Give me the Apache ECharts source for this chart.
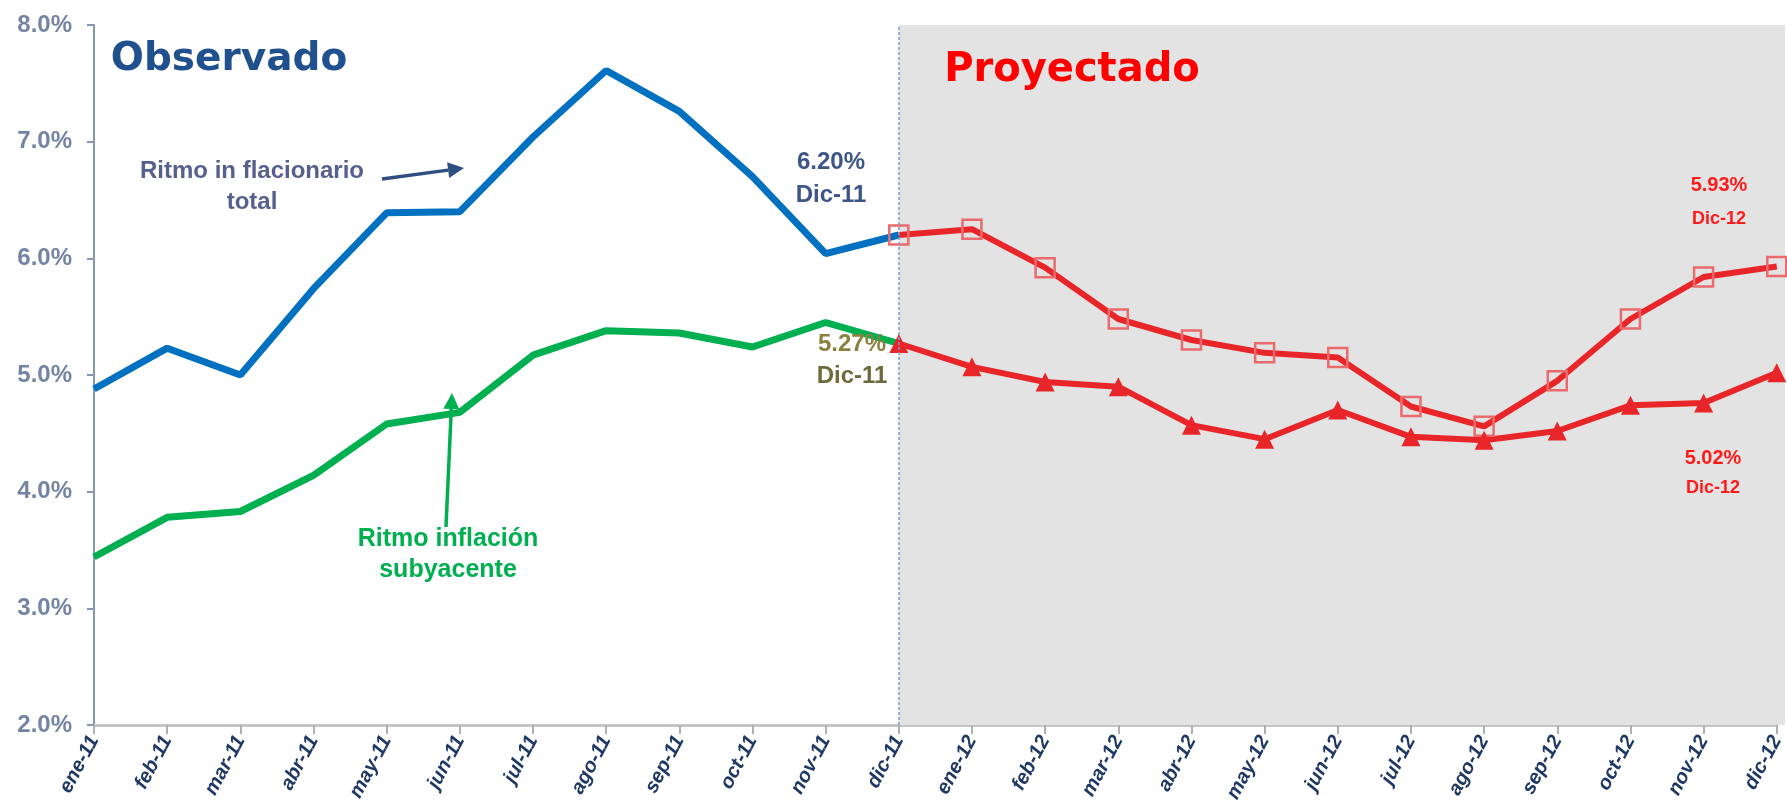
<!DOCTYPE html>
<html>
<head>
<meta charset="utf-8">
<script src="https://cdn.jsdelivr.net/npm/echarts@6/dist/echarts.min.js"></script>
<style>
  html, body { margin: 0; padding: 0; background: #fff; }
  #main { width: 1787px; height: 809px; }
</style>
</head>
<body>
<div id="main"></div>
<script>
const months = [
  "ene-11", "feb-11", "mar-11", "abr-11", "may-11", "jun-11",
  "jul-11", "ago-11", "sep-11", "oct-11", "nov-11", "dic-11",
  "ene-12", "feb-12", "mar-12", "abr-12", "may-12", "jun-12",
  "jul-12", "ago-12", "sep-12", "oct-12", "nov-12", "dic-12",
];
// observado
const totalObs = [4.88, 5.23, 5.0, 5.74, 6.39, 6.4, 7.04, 7.61, 7.26, 6.7, 6.04, 6.2];
const subyObs = [3.44, 3.78, 3.83, 4.14, 4.58, 4.68, 5.17, 5.38, 5.36, 5.24, 5.45, 5.27];
// proyectado (desde dic-11)
const totalProy = [6.2, 6.25, 5.92, 5.48, 5.3, 5.19, 5.15, 4.73, 4.56, 4.95, 5.48, 5.84, 5.93];
const subyProy = [5.27, 5.07, 4.94, 4.9, 4.57, 4.45, 4.7, 4.47, 4.44, 4.52, 4.74, 4.76, 5.02];
const yTicks = [2, 3, 4, 5, 6, 7, 8];

const pad = (arr, before, after) =>
  Array(before).fill(null).concat(arr, Array(after).fill(null));

let chart = echarts.init(document.getElementById("main"));

// flecha sencilla: linea + punta
let arrow = (x1, y1, x2, y2, color, w) => {
  let dx = x2 - x1, dy = y2 - y1;
  let len = Math.sqrt(dx * dx + dy * dy);
  let ux = dx / len, uy = dy / len;
  let hl = 16, hw = 8;
  let bx = x2 - ux * hl, by = y2 - uy * hl;
  return [
    {
      type: "line",
      shape: { x1: x1, y1: y1, x2: bx, y2: by },
      style: { stroke: color, lineWidth: w },
    },
    {
      type: "polygon",
      shape: {
        points: [
          [x2, y2],
          [bx - uy * hw, by + ux * hw],
          [bx + uy * hw, by - ux * hw],
        ],
      },
      style: { fill: color },
    },
  ];
};

let txt = (x, y, text, color, size, font) => ({
  type: "text",
  x: x,
  y: y,
  z: 10,
  style: {
    text: text,
    fill: color,
    font: "bold " + size + "px " + (font || "'Liberation Sans'"),
    textAlign: "center",
    textVerticalAlign: "middle",
  },
});

let option = {
  backgroundColor: "#ffffff",
  animation: false,
  grid: { left: 94, right: 9, top: 25, bottom: 84 },
  xAxis: {
    type: "category",
    data: months,
    boundaryGap: false,
    axisLine: { lineStyle: { color: "#c4c4c4", width: 3 } },
    axisTick: { show: true, length: 9, lineStyle: { color: "#b0b0b0", width: 2 } },
    axisLabel: {
      interval: 0,
      rotate: 62,
      margin: 12,
      color: "#1f3864",
      fontSize: 20,
      fontWeight: "bold",
      fontStyle: "italic",
      fontFamily: "Liberation Sans",
    },
    splitLine: { show: false },
  },
  yAxis: {
    type: "value",
    min: yTicks[0],
    max: yTicks[yTicks.length - 1],
    interval: 1,
    axisLine: { show: true, lineStyle: { color: "#8497b0", width: 2 } },
    axisTick: { show: true, length: 7, lineStyle: { color: "#8497b0", width: 2 } },
    axisLabel: {
      color: "#7485a3",
      fontSize: 24,
      fontWeight: "bold",
      fontFamily: "Liberation Sans",
      margin: 22,
      formatter: (v) => v.toFixed(1) + "%",
    },
    splitLine: { show: false },
  },
  series: [
    {
      name: "Ritmo inflacionario total",
      type: "line",
      data: pad(totalObs, 0, 12),
      showSymbol: false,
      lineStyle: { color: "#0070c0", width: 7 },
      z: 3,
      markArea: {
        silent: true,
        itemStyle: { color: "#e3e3e3" },
        data: [[{ xAxis: "dic-11" }, { xAxis: "dic-12" }]],
      },
      markLine: {
        silent: true,
        symbol: "none",
        label: { show: false },
        lineStyle: { color: "#7f9ccc", width: 1.5, type: [3, 2] },
        data: [{ xAxis: "dic-11" }],
      },
    },
    {
      name: "Ritmo inflación subyacente",
      type: "line",
      data: pad(subyObs, 0, 12),
      showSymbol: false,
      lineStyle: { color: "#00b050", width: 7 },
      z: 3,
    },
    {
      name: "Proyectado total",
      type: "line",
      data: pad(totalProy, 11, 0),
      symbol: "rect",
      symbolSize: 19,
      lineStyle: { color: "#e8262a", width: 6 },
      itemStyle: { color: "rgba(255,255,255,0)", borderColor: "#ea6a6d", borderWidth: 2.5 },
      z: 4,
    },
    {
      name: "Proyectado subyacente",
      type: "line",
      data: pad(subyProy, 11, 0),
      symbol: "triangle",
      symbolSize: 19,
      lineStyle: { color: "#e8262a", width: 6 },
      itemStyle: { color: "#e8262a" },
      z: 4,
    },
  ],
  graphic: [
    {
      type: "rect",
      z: -1,
      shape: { x: 1776, y: 25, width: 9, height: 700 },
      style: { fill: "#e3e3e3" },
    },
    txt(229, 60, "Observado", "#21508f", 39, "'DejaVu Sans'"),
    txt(1072, 71, "Proyectado", "#ff0000", 40, "'DejaVu Sans'"),
    txt(252, 171, "Ritmo in flacionario", "#56608c", 24),
    txt(252, 202, "total", "#56608c", 24),
    txt(831, 162, "6.20%", "#3d5587", 24),
    txt(831, 195, "Dic-11", "#3d5587", 24),
    txt(852, 344, "5.27%", "#8a8040", 24),
    txt(852, 376, "Dic-11", "#6e6a3c", 24),
    txt(448, 539, "Ritmo inflación", "#00b050", 25),
    txt(448, 570, "subyacente", "#00b050", 25),
    txt(1719, 185, "5.93%", "#ff1a1a", 20),
    txt(1719, 219, "Dic-12", "#ff1a1a", 18),
    txt(1713, 458, "5.02%", "#ff1a1a", 20),
    txt(1713, 488, "Dic-12", "#ff1a1a", 18),
  ]
    .concat(arrow(382, 179, 464, 168, "#2f4f80", 3.5))
    .concat(arrow(446, 527, 452, 393, "#00b050", 3.5)),
};
chart.setOption(option);
</script>
</body>
</html>
